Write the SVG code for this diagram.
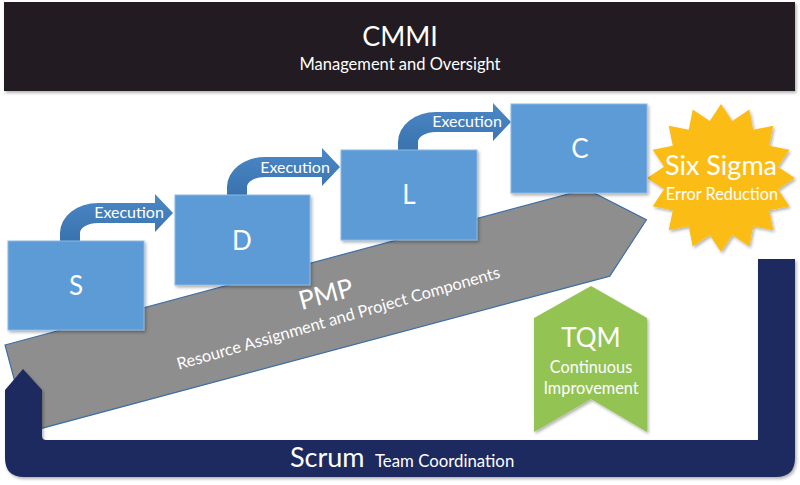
<svg xmlns="http://www.w3.org/2000/svg" width="800" height="485" viewBox="0 0 800 485">
  <defs>
    <filter id="sh" x="-10%" y="-10%" width="130%" height="130%">
      <feDropShadow dx="1.5" dy="2" stdDeviation="1.5" flood-color="#000" flood-opacity="0.3"/>
    </filter>
    <linearGradient id="execGrad" x1="0" y1="0" x2="0" y2="1">
      <stop offset="0" stop-color="#4a88c6"/>
      <stop offset="1" stop-color="#3a73ae"/>
    </linearGradient>
    <path id="execShape" d="M0,0 L0,-8 A38,30 0 0 1 38,-38 L95,-38 L95,-47 L113,-28 L95,-9 L95,-18 L38,-18 A18,10 0 0 0 20,-8 L20,0 Z"/>
  </defs>
  <style>
    text { font-family: Lato, "Open Sans", "Liberation Sans", sans-serif; fill: #ffffff; text-anchor: middle; }
    .box { fill: #5b9bd5; stroke: #8cb9e6; stroke-width: 1; filter: url(#sh); }
    .boxlbl { font-size: 26px; }
    .exec { fill: url(#execGrad); }
    .execlbl { font-size: 16px; }
  </style>

  <rect width="800" height="485" fill="#ffffff"/>

  <g id="cmmi">
    <rect x="4" y="2" width="791" height="89" fill="#231f20" filter="url(#sh)"/>
    <text x="400" y="46" style="font-size:27px">CMMI</text>
    <text x="400" y="70" style="font-size:16.5px">Management and Oversight</text>
  </g>

  <g id="pmp" transform="translate(5,345) rotate(-15)">
    <polygon points="0,0 602,0 652,45 602,90 0,90" fill="#8e8e8e" stroke="#3d6fa6" stroke-width="1.2"/>
    <text x="323" y="43" style="font-size:26px">PMP</text>
    <text x="329" y="66" transform="rotate(-1 329 66)" style="font-size:16.4px">Resource Assignment and Project Components</text>
  </g>

  <g id="scrum">
    <path d="M5,390 L23,369 L42,390 L42,436 Q42,440 46,440 L758,440 L758,259 L795,259 L795,458 Q795,477 776,477 L24,477 Q5,477 5,458 Z" fill="#1e2a5e" filter="url(#sh)"/>
    <text x="290" y="467" style="font-size:27px;text-anchor:start">Scrum</text>
    <text x="375" y="467" style="font-size:16.8px;text-anchor:start">Team Coordination</text>
  </g>

  <g id="tqm">
    <polygon points="591,286 647,318 647,432 591,399 534,432 534,318" fill="#92c353" filter="url(#sh)"/>
    <text x="591" y="347" style="font-size:26px">TQM</text>
    <text x="591" y="373" style="font-size:16.3px">Continuous</text>
    <text x="591" y="394" style="font-size:16.3px">Improvement</text>
  </g>

  <g id="sixsigma">
    <polygon points="721,104 732.3,121.1 749.3,109.6 753.2,129.8 773.3,125.7 769.2,145.8 789.4,149.7 777.9,166.7 795,178 777.9,189.3 789.4,206.3 769.2,210.2 773.3,230.3 753.2,226.2 749.3,246.4 732.3,234.9 721,252 709.7,234.9 692.7,246.4 688.8,226.2 668.7,230.3 672.8,210.2 652.6,206.3 664.1,189.3 647,178 664.1,166.7 652.6,149.7 672.8,145.8 668.7,125.7 688.8,129.8 692.7,109.6 709.7,121.1" fill="#fbbc16" filter="url(#sh)"/>
    <text x="721" y="175" style="font-size:27px">Six Sigma</text>
    <text x="722" y="200" style="font-size:16.3px">Error Reduction</text>
  </g>

  <g id="connectors">
    <g transform="translate(60,241)">
      <use href="#execShape" class="exec"/>
      <text x="69" y="-23" class="execlbl">Execution</text>
    </g>
    <g transform="translate(227,195)">
      <use href="#execShape" class="exec"/>
      <text x="68" y="-22" class="execlbl">Execution</text>
    </g>
    <g transform="translate(398,150)">
      <use href="#execShape" class="exec"/>
      <text x="69" y="-23" class="execlbl">Execution</text>
    </g>
  </g>

  <g id="node-s">
    <rect class="box" x="8" y="241" width="136" height="89"/>
    <text class="boxlbl" x="76" y="295">S</text>
  </g>
  <g id="node-d">
    <rect class="box" x="175" y="195" width="135" height="90"/>
    <text class="boxlbl" x="242" y="250">D</text>
  </g>
  <g id="node-l">
    <rect class="box" x="341" y="150" width="136" height="90"/>
    <text class="boxlbl" x="409" y="204">L</text>
  </g>
  <g id="node-c">
    <rect class="box" x="511" y="104" width="136" height="89"/>
    <text class="boxlbl" x="580" y="158">C</text>
  </g>
</svg>
